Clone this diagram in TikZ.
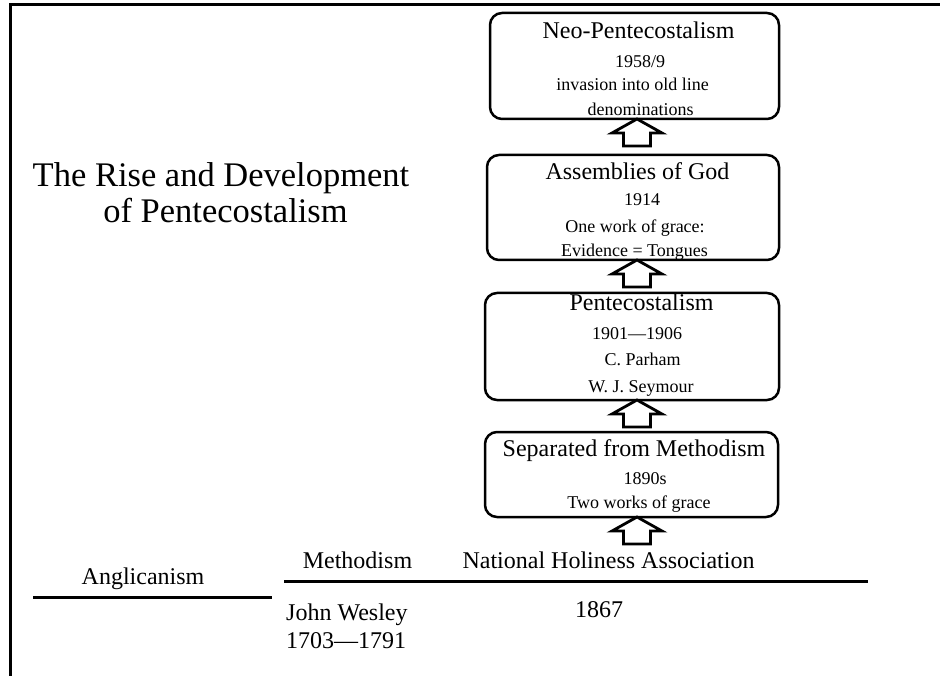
\documentclass[tikz,border=0pt]{standalone}
\usepackage{fontspec}
\setmainfont{Liberation Serif}
\usetikzlibrary{calc}
\newcommand\myuparrow[1]{%
  \draw[blockarrow] (#1) -- ++(25,14) -- ++(-11.5,0) -- ++(0,13) -- ++(-27,0) -- ++(0,-13) -- ++(-11.5,0) -- cycle;}
\begin{document}
\begin{tikzpicture}[x=1pt,y=-1pt,
  box/.style={draw, line width=2.5pt, rounded corners=12pt, inner sep=0pt, outer sep=0pt},
  head/.style={anchor=base, inner sep=0pt, font=\fontsize{24}{28}\selectfont},
  sub/.style={anchor=base, inner sep=0pt, font=\fontsize{18}{21}\selectfont},
  ttl/.style={anchor=base, inner sep=0pt, font=\fontsize{34.5}{40}\selectfont},
  rule/.style={line width=3pt},
  blockarrow/.style={draw, line width=2.8pt, line join=miter, fill=white}]
\useasboundingbox (0,0) rectangle (940,676);
% frame
\coordinate (fa) at (10,676);
\coordinate (fb) at (10,5);
\coordinate (fc) at (940,5);
\draw[rule] (fa) -- (fb) -- (fc);
% title
\node[ttl] (title1) at (221,187) {The Rise and Development};
\node[ttl] (title2) at (225.5,223) {of Pentecostalism};
% boxes
\node[box, minimum width=289pt, minimum height=106pt] (b1) at (634.5,66) {};
\node[box, minimum width=292pt, minimum height=105pt] (b2) at (633,207.5) {};
\node[box, minimum width=294pt, minimum height=107pt] (b3) at (632,346.5) {};
\node[box, minimum width=293pt, minimum height=85pt] (b4) at (631.5,474.5) {};
% box texts
\node[head] (n1) at (638.5,39) {Neo-Pentecostalism};
\node[sub] (n2) at (640,68) {1958/9};
\node[sub] (n3) at (632.5,91) {invasion into old line};
\node[sub] (n4) at (640.5,116) {denominations};
\node[head] (a1) at (637.5,180) {Assemblies of God};
\node[sub] (a2) at (642,206) {1914};
\node[sub] (a3) at (635,233) {One work of grace:};
\node[sub] (a4) at (634.5,257) {Evidence = Tongues};
\node[head] (p1) at (641.5,311) {Pentecostalism};
\node[sub] (p2) at (637,340) {1901—1906};
\node[sub] (p3) at (642.5,366) {C. Parham};
\node[sub] (p4) at (641,392) {W. J. Seymour};
\node[head] (s1) at (634,456) {Separated from Methodism};
\node[sub] (s2) at (645,484) {1890s};
\node[sub] (s3) at (639,508) {Two works of grace};
% arrows
\coordinate (ax) at (637,0);
\coordinate (t1) at (b1.south -| ax);
\coordinate (t2) at (b2.south -| ax);
\coordinate (t3) at (b3.south -| ax);
\coordinate (t4) at (b4.south -| ax);
\myuparrow{t1}
\myuparrow{t2}
\myuparrow{t3}
\myuparrow{t4}
% bottom lines
\coordinate (l1a) at (33,597);
\coordinate (l1b) at (272,597);
\coordinate (l2a) at (284,581);
\coordinate (l2b) at (868,581);
\draw[rule] (l1a) -- (l1b);
\draw[rule] (l2a) -- (l2b);
% bottom texts
\node[head] (ang) at (143,584) {Anglicanism};
\node[head] (meth) at (357.5,568) {Methodism};
\node[head] (nha) at (608.5,568) {National Holiness Association};
\node[head, anchor=base west] (jw) at (286,620) {John Wesley};
\node[head, anchor=base west] (jwd) at (286,648) {1703—1791};
\node[head] (y1867) at (599,617) {1867};
\end{tikzpicture}
\end{document}
